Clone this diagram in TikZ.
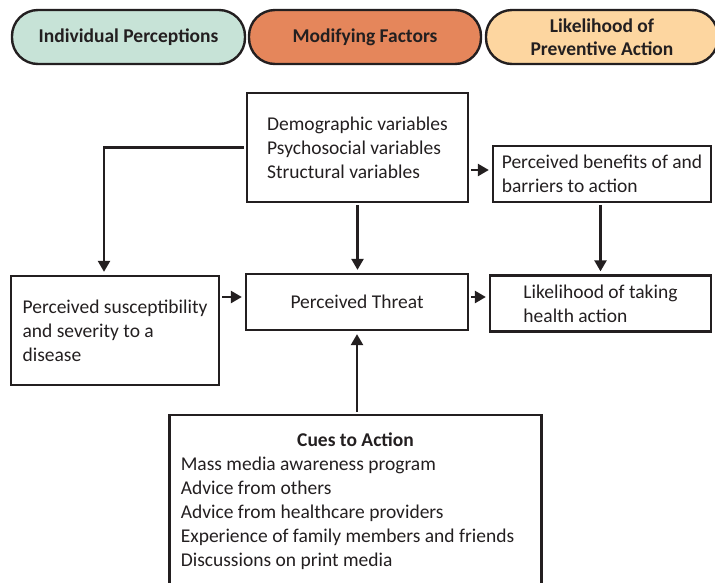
\documentclass[tikz,border=0pt]{standalone}
\usepackage{fontspec}
\setmainfont{Carlito}
\usepackage{xcolor}
\usetikzlibrary{arrows.meta}

\definecolor{indivcol}{HTML}{C7E3D7}
\definecolor{modifcol}{HTML}{E5865B}
\definecolor{likelicol}{HTML}{FDD6A0}
\definecolor{linecol}{HTML}{231F20}

\begin{document}
\begin{tikzpicture}[x=1pt, y=-1pt,
    every node/.style={font=\fontsize{19.5}{24}\selectfont, text=linecol},
    box/.style={draw=linecol, line width=2.3pt, rectangle, align=left},
    pill/.style={draw=linecol, line width=2.4pt, rounded corners=26pt, minimum width=232pt, minimum height=54pt, align=center, font=\fontsize{19.5}{23}\selectfont\bfseries},
    link/.style={-{Triangle[length=11pt,width=12pt]}, line width=2.4pt, draw=linecol, shorten >=3pt, shorten <=2pt}]
    \useasboundingbox (0,0) rectangle (715,582);

    % Headers
    \node[pill, fill=indivcol, minimum width=233pt] (indiv) at (128.5,37) {Individual Perceptions};
    \node[pill, fill=modifcol] (modif) at (365,37) {Modifying Factors};
    \node[pill, fill=likelicol] (likeli) at (602,37) {Likelihood of\\Preventive Action};

    % Boxes
    \node[box, minimum width=221pt, minimum height=109pt] (demo) at (357.5,147.5) {Demographic variables\\Psychosocial variables\\Structural variables};
    \node[box, minimum width=218pt, minimum height=56pt] (benefit) at (602,174) {Perceived benefits of and\\barriers to action};
    \node[box, minimum width=208pt, minimum height=109pt] (suscept) at (115,330.5) {Perceived susceptibility\\and severity to a\\disease};
    \node[box, minimum width=222pt, minimum height=56pt] (threat) at (357,302) {Perceived Threat};
    \node[box, minimum width=221pt, minimum height=56pt] (action) at (600.5,303.5) {Likelihood of taking\\health action};
    \node[box, anchor=north, minimum width=372pt, inner ysep=15pt] (cues) at (355.5,414) {\begin{tabular}{@{}l@{\hspace{16pt}}}
      \multicolumn{1}{@{}c@{}}{\bfseries Cues to Action}\\
      Mass media awareness program\\
      Advice from others\\
      Advice from healthcare providers\\
      Experience of family members and friends\\
      Discussions on print media
    \end{tabular}};

    % Edges
    \draw[link] (demo.west) -| ([xshift=-11pt]suscept.north);
    \draw[link] (demo.south) -- (demo.south |- threat.north);
    \draw[link] ([yshift=4pt]benefit.west -| demo.east) -- ([yshift=4pt]benefit.west);
    \draw[link] (benefit.south -| action.north) -- (action.north);
    \draw[link] ([yshift=5pt]threat.west -| suscept.east) -- ([yshift=5pt]threat.west);
    \draw[link] ([yshift=5pt]threat.east) -- ([yshift=5pt]threat.east -| action.west);
    \draw[link] (cues.north -| threat.south) -- (threat.south);
\end{tikzpicture}
\end{document}
